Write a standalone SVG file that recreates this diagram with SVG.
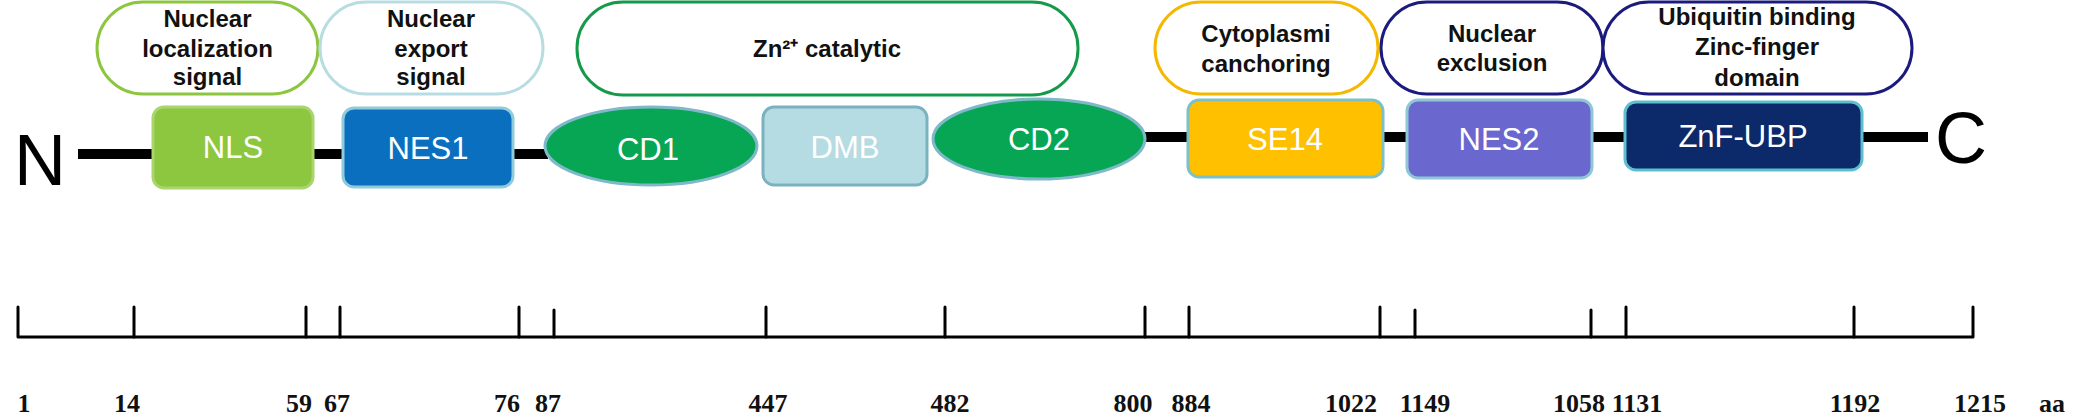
<svg xmlns="http://www.w3.org/2000/svg" width="2080" height="419" viewBox="0 0 2080 419">
<style>
.pill{fill:#fff;stroke-width:3}
.pt{font-family:"Liberation Sans",Arial,sans-serif;font-weight:bold;font-size:24px;fill:#111;text-anchor:middle}
.bt{font-family:"Liberation Sans",Arial,sans-serif;font-size:31px;fill:#fff;text-anchor:middle}
.bx{stroke-width:3}
.bb{stroke:#000;stroke-width:10}
.tick{stroke:#000;stroke-width:3;fill:none;stroke-linecap:round;stroke-linejoin:round}
.al{font-family:"Liberation Serif","Times New Roman",serif;font-weight:bold;font-size:26px;fill:#111;text-anchor:middle}
.term{font-family:"Liberation Sans",Arial,sans-serif;font-size:72px;fill:#000;text-anchor:middle}
</style>
<rect width="2080" height="419" fill="#fff"/>
<g id="connectors">
<line class="bb" x1="78" y1="154" x2="155" y2="154"/>
<line class="bb" x1="311" y1="154" x2="345" y2="154"/>
<line class="bb" x1="511" y1="154" x2="548" y2="154"/>
<line class="bb" x1="1143" y1="137" x2="1190" y2="137"/>
<line class="bb" x1="1381" y1="137" x2="1409" y2="137"/>
<line class="bb" x1="1590" y1="137" x2="1627" y2="137"/>
<line class="bb" x1="1860" y1="137" x2="1928" y2="137"/>
</g>
<g id="term-N"><text class="term" x="40" y="185">N</text></g>
<g id="term-C"><text class="term" x="1961" y="163">C</text></g>
<g id="label-nls">
<rect class="pill" x="97" y="2" width="221" height="92" rx="46" stroke="#8cc63f"/>
<text class="pt" x="207.5" y="27">Nuclear</text>
<text class="pt" x="207.5" y="57">localization</text>
<text class="pt" x="207.5" y="85">signal</text>
</g>
<g id="label-nes">
<rect class="pill" x="320" y="2" width="223" height="92" rx="46" stroke="#b7dde3"/>
<text class="pt" x="431" y="27">Nuclear</text>
<text class="pt" x="431" y="57">export</text>
<text class="pt" x="431" y="85">signal</text>
</g>
<g id="label-zn">
<rect class="pill" x="577" y="2" width="501" height="93" rx="46" stroke="#149a4a"/>
<text class="pt" x="827" y="57">Zn²⁺ catalytic</text>
</g>
<g id="label-cyto">
<rect class="pill" x="1155" y="2" width="223" height="92" rx="46" stroke="#f5b800"/>
<text class="pt" x="1266" y="42">Cytoplasmi</text>
<text class="pt" x="1266" y="72">canchoring</text>
</g>
<g id="label-excl">
<rect class="pill" x="1381" y="2" width="222" height="92" rx="46" stroke="#1b1b7e"/>
<text class="pt" x="1492" y="42">Nuclear</text>
<text class="pt" x="1492" y="71">exclusion</text>
</g>
<g id="label-ubp">
<rect class="pill" x="1603" y="2" width="309" height="92" rx="46" stroke="#1b1b7e"/>
<text class="pt" x="1757" y="25">Ubiquitin binding</text>
<text class="pt" x="1757" y="55">Zinc-finger</text>
<text class="pt" x="1757" y="86">domain</text>
</g>
<g id="NLS">
<rect class="bx" x="153" y="107" width="160" height="81" rx="11" fill="#8dc63f" stroke="#a9d46e"/>
<text class="bt" x="233" y="158">NLS</text>
</g>
<g id="NES1">
<rect class="bx" x="343" y="108" width="170" height="79" rx="11" fill="#0b6fc0" stroke="#8fcbda"/>
<text class="bt" x="428" y="159">NES1</text>
</g>
<g id="CD1">
<ellipse class="bx" cx="651" cy="146" rx="106" ry="39" fill="#07a655" stroke="#7fb9c9"/>
<text class="bt" x="648" y="160">CD1</text>
</g>
<g id="DMB">
<rect class="bx" x="763" y="107" width="164" height="78" rx="11" fill="#b5dce2" stroke="#7ab2bf"/>
<text class="bt" x="845" y="158">DMB</text>
</g>
<g id="CD2">
<ellipse class="bx" cx="1039" cy="139" rx="106" ry="40" fill="#07a655" stroke="#7fb9c9"/>
<text class="bt" x="1039" y="150">CD2</text>
</g>
<g id="SE14">
<rect class="bx" x="1188" y="100" width="195" height="77" rx="11" fill="#ffc000" stroke="#7cc0c8"/>
<text class="bt" x="1285" y="150">SE14</text>
</g>
<g id="NES2">
<rect class="bx" x="1407" y="100" width="185" height="78" rx="11" fill="#6a67ce" stroke="#8fc7d6"/>
<text class="bt" x="1499" y="150">NES2</text>
</g>
<g id="ZnF-UBP">
<rect class="bx" x="1625" y="102" width="237" height="68" rx="11" fill="#0c2a6a" stroke="#5dbfd0"/>
<text class="bt" x="1743" y="147">ZnF-UBP</text>
</g>
<g id="axis">
<path class="tick" d="M18 307 V337 H1973 V307"/>
<path class="tick" d="M134 307V337M306 307V337M340 307V337M519 307V337M554 310V337M766 307V337M945 307V337M1145 307V337M1189 307V337M1380 307V337M1415 310V337M1591 310V337M1626 307V337M1854 307V337"/>
<text class="al" x="24" y="412">1</text>
<text class="al" x="127" y="412">14</text>
<text class="al" x="299" y="412">59</text>
<text class="al" x="337" y="412">67</text>
<text class="al" x="507" y="412">76</text>
<text class="al" x="548" y="412">87</text>
<text class="al" x="768" y="412">447</text>
<text class="al" x="950" y="412">482</text>
<text class="al" x="1133" y="412">800</text>
<text class="al" x="1191" y="412">884</text>
<text class="al" x="1351" y="412">1022</text>
<text class="al" x="1425" y="412">1149</text>
<text class="al" x="1579" y="412">1058</text>
<text class="al" x="1637" y="412">1131</text>
<text class="al" x="1855" y="412">1192</text>
<text class="al" x="1980" y="412">1215</text>
<text class="al" x="2052" y="412">aa</text>
</g>
</svg>
